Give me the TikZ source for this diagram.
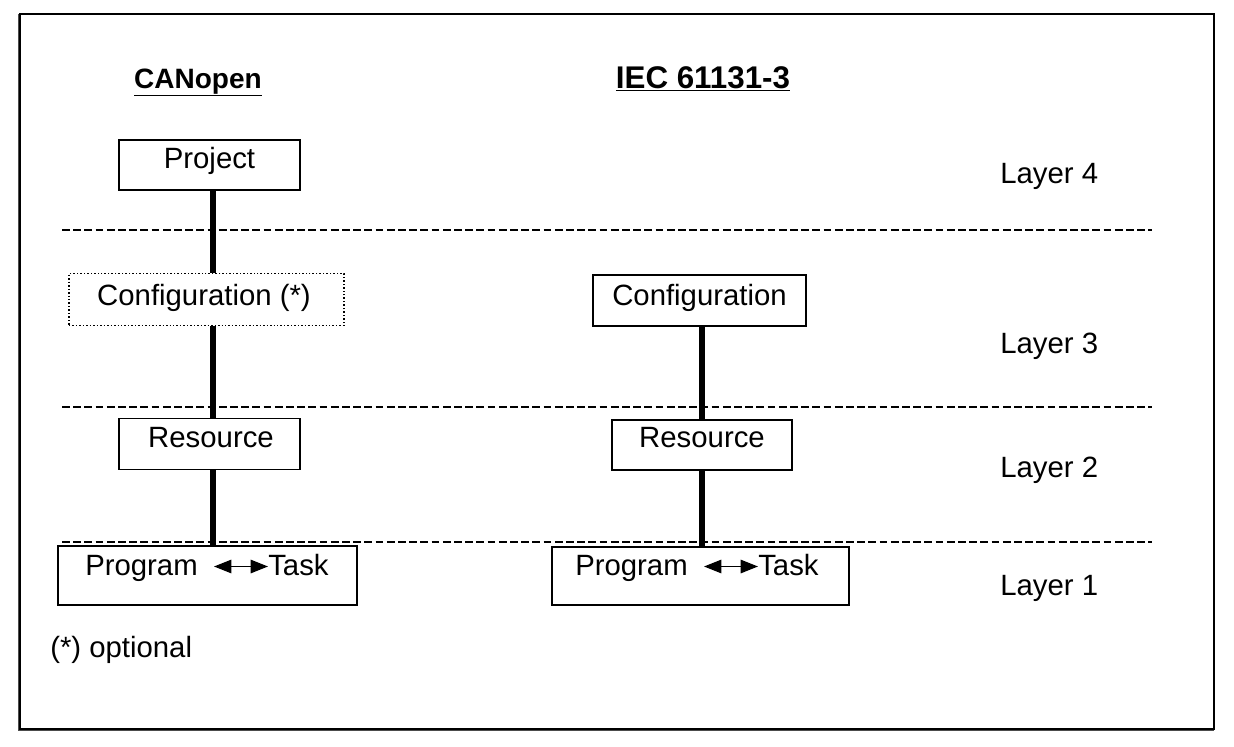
\documentclass[tikz,border=0pt]{standalone}
\usepackage{fontspec}
\setmainfont{Liberation Sans}
\usetikzlibrary{calc,arrows.meta}
\begin{document}
\begin{tikzpicture}[x=0.75pt,y=-0.75pt,
  txt/.style={inner sep=0pt,font=\fontsize{22}{26}\selectfont},
  head/.style={inner sep=0pt,font=\fontsize{21}{25}\selectfont\bfseries},
  box/.style={draw,line width=1.1pt,inner sep=0pt},
  dotbox/.style={draw,line width=1.1pt,inner sep=0pt,dash pattern=on 1.1pt off 1.5pt},
  conn/.style={line width=3.8pt},
  sep/.style={line width=1.6pt,dash pattern=on 5.8pt off 2.6pt},
  dbl/.style={line width=1.4pt,{Triangle[length=13pt,width=10pt]}-{Triangle[length=13pt,width=10pt]}}
]
\useasboundingbox (0,0) rectangle (1234,746);
% frame
\draw[line width=1.1pt] (20,14) rectangle (1214,729);
\draw[line width=1.1pt,black!70] (18.5,14) -- (18.5,730.5) -- (1214,730.5);

% headings
\node[head,anchor=base] (hcan) at (198,88) {\underline{CANopen}};
\node[head,anchor=base,font=\fontsize{23.5}{27}\selectfont\bfseries] (hiec) at (703,88) {\underline{IEC 61131-3}};

% separators
\coordinate (s4a) at (62,230); \coordinate (s4b) at (1152,230);
\coordinate (s3a) at (62,407); \coordinate (s3b) at (1152,407);
\coordinate (s2a) at (62,542); \coordinate (s2b) at (1152,542);
\draw[sep] (s4a) -- (s4b);
\draw[sep] (s3a) -- (s3b);
\draw[sep] (s2a) -- (s2b);

% boxes (centres and sizes in px)
\node[box,minimum width=135.75pt,minimum height=37.5pt] (project) at (209.5,165) {};
\node[dotbox,minimum width=206.25pt,minimum height=39pt] (cfgL) at (206.5,299.5) {};
\node[box,minimum width=159.75pt,minimum height=38.25pt] (cfgR) at (699.5,300.5) {};
\node[box,minimum width=135.75pt,minimum height=38.25pt] (resL) at (209.5,444) {};
\node[box,minimum width=135pt,minimum height=37.5pt] (resR) at (702,445) {};
\node[box,minimum width=224.25pt,minimum height=44.25pt] (progL) at (207.5,575.5) {};
\node[box,minimum width=222.75pt,minimum height=43.5pt] (progR) at (700.5,576) {};

% texts
\node[txt,anchor=base] (tproject) at (209.5,168) {Project};
\node[txt,anchor=base] (tcfgL) at (204,305.5) {Configuration (*)};
\node[txt,anchor=base] (tcfgR) at (699.5,305.5) {Configuration};
\node[txt,anchor=base] (tresL) at (211,447.5) {Resource};
\node[txt,anchor=base] (tresR) at (702,447.5) {Resource};
\node[txt,anchor=base east] (pL) at (198,575.5) {Program};
\node[txt,anchor=base west] (kL) at (268,575.5) {Task};
\node[txt,anchor=base east] (pR) at (688,575.5) {Program};
\node[txt,anchor=base west] (kR) at (758,575.5) {Task};
\draw[dbl] ($(pL.base east)+(16,-9)$) -- ($(kL.base west)+(0,-9)$);
\draw[dbl] ($(pR.base east)+(16,-9)$) -- ($(kR.base west)+(0,-9)$);

% layer labels
\node[txt,anchor=base west] (l4) at (1000,183.5) {Layer 4};
\node[txt,anchor=base west] (l3) at (1000,353.5) {Layer 3};
\node[txt,anchor=base west] (l2) at (1000,477.5) {Layer 2};
\node[txt,anchor=base west] (l1) at (1000,595.5) {Layer 1};
\node[txt,anchor=base west] (opt) at (50,657) {(*) optional};

% connectors
\coordinate (colL) at (213,0);
\coordinate (colR) at (702,0);
\draw[conn] (project.south -| colL) -- (cfgL.north -| colL);
\draw[conn] (cfgL.south -| colL) -- (resL.north -| colL);
\draw[conn] (resL.south -| colL) -- (progL.north -| colL);
\draw[conn] (cfgR.south -| colR) -- (resR.north -| colR);
\draw[conn] (resR.south -| colR) -- (progR.north -| colR);
\end{tikzpicture}
\end{document}
